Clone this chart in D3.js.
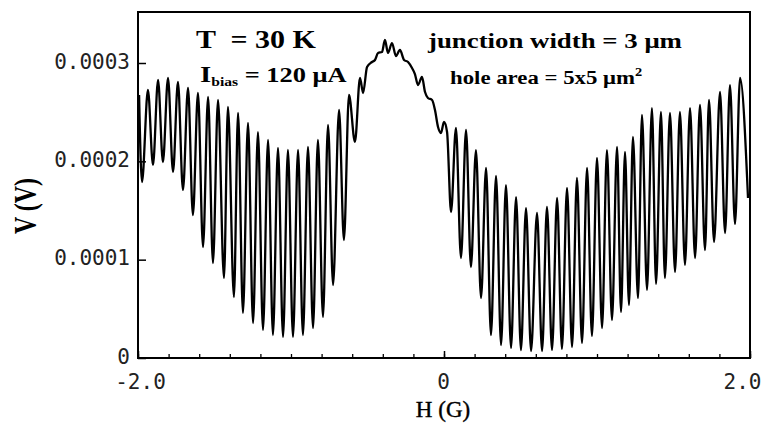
<!DOCTYPE html>
<html><head><meta charset="utf-8">
<script src="https://cdn.jsdelivr.net/npm/d3@7"></script>
<style>body{margin:0;background:#fff}svg text{white-space:pre}</style>
</head><body>
<svg id="c" width="763" height="430"></svg>
<script>
// Magnetic field H (G) at each read-off extremum / point of the trace
const fieldH = [
-1.993, -1.974, -1.935, -1.902, -1.869, -1.837, -1.804, -1.771, -1.739, -1.706,
-1.673, -1.641, -1.608, -1.575, -1.542, -1.510, -1.477, -1.438, -1.412, -1.373,
-1.346, -1.314, -1.281, -1.248, -1.216, -1.183, -1.150, -1.118, -1.085, -1.052,
-1.020, -0.987, -0.954, -0.922, -0.889, -0.856, -0.824, -0.791, -0.758, -0.725,
-0.686, -0.654, -0.621, -0.582, -0.549, -0.529,
-0.503, -0.471, -0.451, -0.431, -0.405, -0.386, -0.366, -0.340, -0.314, -0.288,
-0.261, -0.235, -0.209, -0.190, -0.170, -0.144, -0.124, -0.105, -0.078, -0.059,
-0.039, -0.020, 0.000,
0.020, 0.046, 0.078, 0.111, 0.144, 0.176, 0.209, 0.242, 0.275, 0.307,
0.340, 0.373, 0.405, 0.438, 0.471, 0.503, 0.536, 0.569, 0.608, 0.641,
0.673, 0.706, 0.739, 0.771, 0.804, 0.837, 0.869, 0.902, 0.935, 0.967,
1.000, 1.033, 1.065, 1.098, 1.131, 1.157, 1.183, 1.209, 1.235, 1.268,
1.294, 1.327, 1.359, 1.386, 1.418, 1.444, 1.477, 1.510, 1.542, 1.575,
1.608, 1.641, 1.673, 1.706, 1.732, 1.765, 1.804, 1.837, 1.869, 1.902,
1.935, 1.987
];
// Voltage V in units of 1e-4 V
const voltageE4 = [
2.675, 1.790, 2.726, 1.963, 2.827, 1.993, 2.848, 1.892, 2.807, 1.709,
2.746, 1.454, 2.695, 1.129, 2.654, 0.966, 2.624, 0.814, 2.553, 0.620,
2.492, 0.458, 2.390, 0.356, 2.298, 0.285, 2.217, 0.234, 2.136, 0.214,
2.115, 0.214, 2.115, 0.234, 2.146, 0.305, 2.217, 0.417, 2.370, 0.742,
2.522, 1.200, 2.675, 2.197, 2.848, 2.695,
2.959, 3.010, 3.031, 3.102, 3.112, 3.234, 3.102, 3.203, 3.071, 3.132,
3.031, 3.010, 2.949, 2.888, 2.776, 2.858, 2.705, 2.644, 2.624, 2.522,
2.349, 2.288, 2.400,
2.298, 1.485, 2.339, 1.017, 2.319, 0.925, 2.115, 0.610, 1.932, 0.234,
1.851, 0.132, 1.759, 0.102, 1.637, 0.081, 1.525, 0.071, 1.475, 0.071,
1.536, 0.081, 1.627, 0.092, 1.729, 0.112, 1.831, 0.153, 1.932, 0.224,
2.034, 0.305, 2.115, 0.386, 2.146, 0.468, 2.095, 0.539, 2.248, 0.610,
2.471, 0.692, 2.542, 0.753, 2.502, 0.814, 2.492, 0.875, 2.502, 0.946,
2.542, 1.017, 2.573, 1.098, 2.624, 1.180, 2.705, 1.271, 2.776, 1.363,
2.848, 1.627
];
const xTickValues = [-2, 0, 2];
const xTickLabels = ["-2.0", "0", "2.0"];
const yTickValues = [0, 0.0001, 0.0002, 0.0003];
const yTickLabels = ["0", "0.0001", "0.0002", "0.0003"];
const xTitle = "H (G)";
const yTitle = "V (V)";

const data = fieldH.map((h, i) => ({h: h, v: voltageE4[i] * 1e-4}));

const svg = d3.select("#c");
const L = 138, R = 750, T = 12, B = 358;
const x = d3.scaleLinear().domain([-2, 2]).range([L, R]);
const y = d3.scaleLinear().domain([0, 0.0003]).range([B, 63]);

// trace
svg.append("path").datum(data)
  .attr("fill", "none").attr("stroke", "#000").attr("stroke-width", 2.3)
  .attr("stroke-linejoin", "round")
  .attr("d", d3.line().x(d => x(d.h)).y(d => y(d.v)).curve(d3.curveMonotoneX));

// frame
svg.append("rect").attr("x", L).attr("y", T).attr("width", R - L).attr("height", B - T)
  .attr("fill", "none").attr("stroke", "#000").attr("stroke-width", 2);

const monoFont = "'DejaVu Sans Mono', monospace";

// x minor ticks
const minor = d3.range(-20, 21, 2).map(k => k / 10);
const gxm = svg.append("g").attr("transform", `translate(0,${B})`)
  .call(d3.axisBottom(x).tickValues(minor).tickSize(-4).tickFormat(""));
gxm.select(".domain").remove();
gxm.selectAll("line").attr("stroke", "#000").attr("stroke-width", 1.3);

// x major ticks + labels
const gx = svg.append("g").attr("transform", `translate(0,${B})`)
  .call(d3.axisBottom(x).tickValues(xTickValues).tickSize(-7)
    .tickFormat((d, i) => xTickLabels[i]));
gx.select(".domain").remove();
gx.selectAll("line").attr("stroke", "#000").attr("stroke-width", 1.5);
gx.selectAll("text")
  .attr("y", 31).attr("dy", 0)
  .attr("x", (d, i) => i === 0 ? 2 : (i === 2 ? 11 : -1))
  .attr("text-anchor", (d, i) => i === 2 ? "end" : "middle")
  .attr("font-family", monoFont).attr("font-size", 21).attr("fill", "#222");

// y axis
const gy = svg.append("g").attr("transform", `translate(${L},0)`)
  .call(d3.axisLeft(y).tickValues(yTickValues).tickSize(-8).tickPadding(8)
    .tickFormat((d, i) => yTickLabels[i]));
gy.select(".domain").remove();
gy.selectAll("line").attr("stroke", "#000").attr("stroke-width", 1.5);
gy.selectAll("text")
  .attr("dy", 5)
  .attr("font-family", monoFont).attr("font-size", 21).attr("fill", "#222");

// axis titles
const serif = "'Liberation Serif', 'Times New Roman', serif";
svg.append("text").attr("transform", "translate(443,417)")
  .attr("text-anchor", "middle").attr("font-family", serif).attr("font-size", 23)
  .attr("stroke", "#000").attr("stroke-width", 0.4)
  .text(xTitle);
svg.append("text").attr("transform", "translate(36,206) scale(1.3,1) rotate(-90)")
  .attr("text-anchor", "middle").attr("font-family", serif).attr("font-size", 24)
  .attr("font-weight", "bold")
  .text(yTitle);

// annotations
function note(tx, ty, sx) {
  return svg.append("g").attr("transform", `translate(${tx},${ty}) scale(${sx},1)`)
    .append("text").attr("font-family", serif).attr("font-weight", "bold");
}
note(196, 48, 1.2).attr("font-size", 25).text("T  = 30 K");
const t2 = note(200, 82, 1.2);
t2.append("tspan").attr("font-size", 24).text("I");
t2.append("tspan").attr("font-size", 13).attr("dy", 4).text("bias");
t2.append("tspan").attr("font-size", 22).attr("dy", -4).text(" = 120 μA");
note(428, 48, 1.22).attr("font-size", 22).text("junction width = 3 μm");
const t4 = note(450, 84, 1.2);
t4.append("tspan").attr("font-size", 19).text("hole area = 5x5 μm");
t4.append("tspan").attr("font-size", 12).attr("dy", -8).text("2");
</script>
</body></html>
